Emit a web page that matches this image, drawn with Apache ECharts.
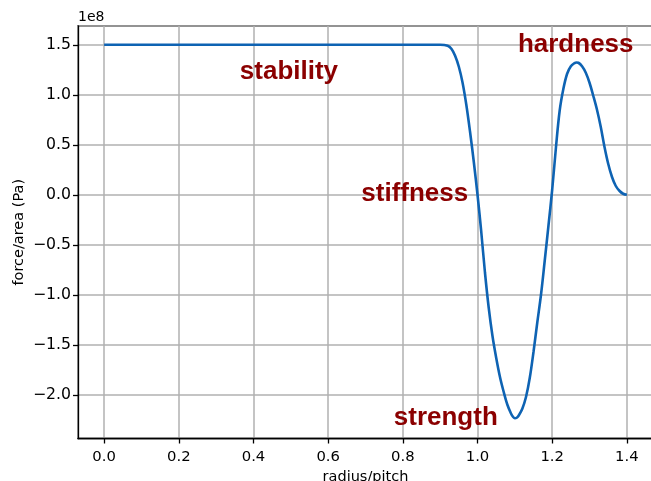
<!DOCTYPE html>
<html>
<head>
<meta charset="utf-8">
<script src="https://cdn.jsdelivr.net/npm/echarts@6/dist/echarts.min.js"></script>
<style>
  html, body { margin: 0; padding: 0; background: #fff; }
  #chart { width: 651px; height: 481px; }
</style>
</head>
<body>
<div id="chart"></div>
<script>
// radius/pitch samples and the force/area at each (Pa)
const radius = [
  0.00, 0.50, 0.90, 0.92, 0.93, 0.94, 0.95, 0.96, 0.97, 0.98, 0.99,
  1.00, 1.01, 1.02, 1.03, 1.04, 1.05, 1.06, 1.07, 1.08, 1.09, 1.095,
  1.10, 1.105, 1.11, 1.12, 1.13, 1.14, 1.15, 1.16, 1.17, 1.18, 1.19,
  1.20, 1.21, 1.22, 1.23, 1.24, 1.25, 1.26, 1.265, 1.27, 1.28, 1.29,
  1.30, 1.31, 1.32, 1.33, 1.34, 1.35, 1.36, 1.37, 1.38, 1.39, 1.40
];
const force = [
  1.50e8, 1.50e8, 1.50e8, 1.49e8, 1.46e8, 1.39e8, 1.28e8, 1.12e8, 0.90e8, 0.63e8, 0.33e8,
  0.00e8, -0.37e8, -0.78e8, -1.13e8, -1.41e8, -1.63e8, -1.82e8, -1.97e8, -2.10e8, -2.19e8, -2.22e8,
  -2.235e8, -2.23e8, -2.21e8, -2.14e8, -2.02e8, -1.83e8, -1.57e8, -1.28e8, -1.00e8, -0.66e8, -0.31e8,
  0.05e8, 0.47e8, 0.84e8, 1.06e8, 1.21e8, 1.285e8, 1.317e8, 1.323e8, 1.32e8, 1.285e8, 1.22e8,
  1.12e8, 0.99e8, 0.85e8, 0.68e8, 0.48e8, 0.31e8, 0.18e8, 0.09e8, 0.04e8, 0.01e8, 0.00e8
];

// annotation words and their anchor points in data space
const noteText = ['stability', 'stiffness', 'strength', 'hardness'];
const noteX = [0.495, 0.832, 0.915, 1.263];
const noteY = [1.225e8, 0.005e8, -2.235e8, 1.495e8];

const SCALE = 1e8;
const xMin = -0.07, xMax = 1.47;
const yMin = -2.4375e8, yMax = 1.6875e8;

const xFont = { fontFamily: 'DejaVu Sans', fontSize: 14.8, color: '#000' };
const yFont = { fontFamily: 'DejaVu Sans', fontSize: 15.7, color: '#000' };
const nameFont = { fontFamily: 'DejaVu Sans', fontSize: 14.5, color: '#000' };
const fmtTick = v => (v / SCALE).toFixed(1).replace('-', '\u2212');

const chart = echarts.init(document.getElementById('chart'), null, { renderer: 'canvas' });

chart.setOption({
  animation: false,
  backgroundColor: '#fff',
  grid: {
    left: 78, top: 26, width: 575, height: 412.5,
    outerBoundsMode: 'none', containLabel: false,
    show: true, borderColor: '#000', borderWidth: 1.3, backgroundColor: 'transparent'
  },
  xAxis: {
    type: 'value', min: xMin, max: xMax, splitNumber: 8,
    name: 'radius/pitch', nameLocation: 'middle', nameGap: 27,
    nameTextStyle: nameFont,
    axisLine: { show: true, onZero: false, lineStyle: { color: '#000', width: 1.3 } },
    axisTick: { show: true, length: 5, lineStyle: { color: '#000', width: 1.3 } },
    axisLabel: Object.assign({ margin: 11, showMinLabel: false, showMaxLabel: false,
      formatter: v => v.toFixed(1) }, xFont),
    splitLine: { show: true, lineStyle: { color: '#b0b0b0', width: 1.5 } }
  },
  yAxis: {
    type: 'value', min: yMin, max: yMax, splitNumber: 8,
    name: 'force/area (Pa)', nameLocation: 'middle', nameGap: 51, nameRotate: 90,
    nameMoveOverlap: false,
    nameTextStyle: nameFont,
    axisLine: { show: true, onZero: false, lineStyle: { color: '#000', width: 1.3 } },
    axisTick: { show: true, length: 5, lineStyle: { color: '#000', width: 1.3 } },
    axisLabel: Object.assign({ margin: 7, showMinLabel: false, showMaxLabel: false,
      formatter: fmtTick }, yFont),
    splitLine: { show: true, lineStyle: { color: '#b0b0b0', width: 1.5 } }
  },
  graphic: [{
    type: 'text', left: 78, top: 10,
    style: { text: '1e8', font: '14px "DejaVu Sans"', fill: '#000' }
  }],
  series: [
    {
      type: 'line',
      data: radius.map((r, i) => [r, force[i]]),
      showSymbol: false,
      smooth: 0.35,
      lineStyle: { color: '#0e63b3', width: 2.6 },
      z: 3
    },
    {
      type: 'scatter',
      data: noteText.map((t, i) => ({ value: [noteX[i], noteY[i]], name: t })),
      symbolSize: 0,
      silent: true,
      itemStyle: { opacity: 1 },
      label: {
        show: true, position: 'inside', align: 'center', verticalAlign: 'middle',
        formatter: p => p.name, opacity: 1,
        fontFamily: 'Liberation Sans', fontWeight: 'bold', fontSize: 26, color: '#8b0000'
      },
      z: 4
    }
  ]
});
</script>
</body>
</html>
